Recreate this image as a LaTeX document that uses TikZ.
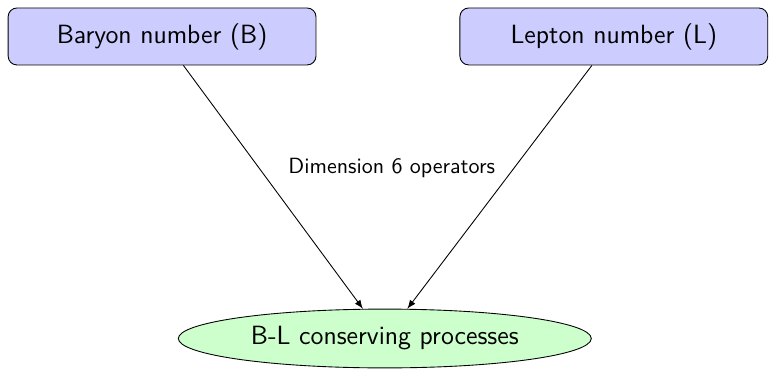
\documentclass[tikz,border=0pt]{standalone}
\usepackage{amsmath, amssymb}
\usepackage{tikz}
\usetikzlibrary{shapes.geometric}

\begin{document}
\begin{tikzpicture}[font=\sffamily,>=latex,
  qnum/.style={draw,rounded corners,fill=blue!20,font=\sffamily\large,
    minimum width=4.92cm,minimum height=0.91cm,inner sep=0pt},
  proc/.style={draw,ellipse,fill=green!20,font=\sffamily\large,
    minimum width=6.6cm,minimum height=0.94cm,inner sep=0pt}]
\useasboundingbox (0,0) rectangle (12.29,-5.90);
\node[qnum] (baryon) at (2.59,-0.583){Baryon number (B)};
\node[qnum] (lepton) at (9.81,-0.583){Lepton number (L)};
\node[proc] (blproc) at (6.15,-5.41){B-L conserving processes};
\draw[->] (baryon) -- (blproc);
\draw[->] (lepton) -- (blproc);
\node (dimsix) at (6.26,-2.69){Dimension 6 operators};
\end{tikzpicture}
\end{document}
